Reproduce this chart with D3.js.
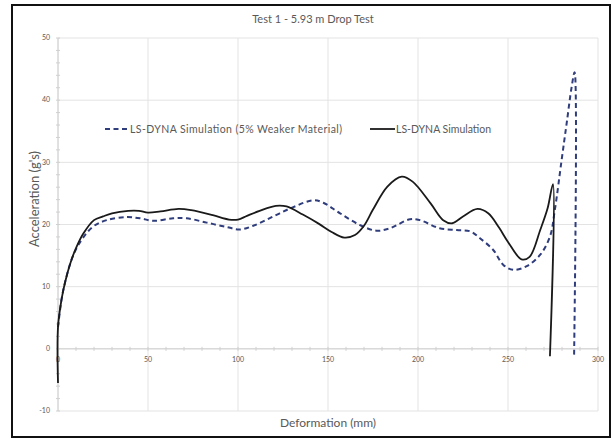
<!DOCTYPE html>
<html>
<head>
<meta charset="utf-8">
<script src="https://cdn.jsdelivr.net/npm/d3@7"></script>
<style>
  body { margin: 0; background: #fff; }
  svg text { font-family: Lato, "Open Sans", sans-serif; fill: #595959; }
</style>
</head>
<body>
<div id="chart"></div>
<script>
// Chart values
const title = "Test 1 - 5.93 m Drop Test";
const xTicks = [0, 50, 100, 150, 200, 250, 300];
const yTicks = [-10, 0, 10, 20, 30, 40, 50];
const seriesNames = ["LS-DYNA Simulation (5% Weaker Material)", "LS-DYNA Simulation"];

const weakX = [0, 2, 4, 7, 10, 14, 19.6, 27, 38, 45.5, 53, 64, 71.5, 82.6, 93.7, 101, 108.5, 119.6, 130.7, 141.8, 147.4, 156.7, 167.8, 177, 184.4, 195.6, 201, 212, 221.5, 229, 234.4, 241.8, 247.4, 253, 260.4, 267.8, 273.3, 276, 279.8, 282.6, 285.4, 287, 286.7];
const weakY = [3.5, 8.0, 10.8, 13.9, 16.0, 17.9, 19.7, 20.7, 21.2, 21.0, 20.6, 21.0, 21.0, 20.3, 19.6, 19.2, 19.8, 21.3, 22.8, 23.9, 23.5, 21.8, 19.9, 19.0, 19.4, 20.85, 20.7, 19.4, 19.1, 18.9, 17.8, 15.9, 13.5, 12.7, 13.3, 15.1, 18.05, 22.3, 30.4, 36.3, 42.2, 44.5, -1.5];

const baseX = [0, 0, 2, 4, 7, 10, 14, 20, 25, 30, 39, 45, 50, 57, 67, 74, 86, 95, 100, 105, 112, 121, 127, 136, 145, 152, 159, 165, 170, 175, 183, 191, 197, 207, 214, 219, 225, 233, 239, 245, 250, 257.5, 262, 268, 272, 275, 273.3];
const baseY = [-5.5, 3.5, 8.0, 10.8, 13.9, 16.2, 18.5, 20.7, 21.3, 21.8, 22.2, 22.2, 21.9, 22.1, 22.5, 22.3, 21.5, 20.8, 20.8, 21.4, 22.2, 23.0, 22.9, 21.6, 20.1, 18.8, 17.9, 18.3, 19.8, 22.4, 26.1, 27.7, 26.9, 23.4, 20.7, 20.2, 21.3, 22.5, 21.8, 19.5, 17.2, 14.4, 14.8, 19.2, 22.6, 26.5, -1.2];

const W = 613, H = 440;
const margin = { left: 58, right: 15, top: 38, bottom: 29 };

const svg = d3.select("#chart").append("svg")
  .attr("width", W)
  .attr("height", H);

// outer frame
svg.append("rect")
  .attr("x", 12).attr("y", 5)
  .attr("width", 598).attr("height", 432)
  .attr("fill", "#fff")
  .attr("stroke", "#111")
  .attr("stroke-width", 2);

const x = d3.scaleLinear().domain([0, 300]).range([margin.left, W - margin.right]);
const y = d3.scaleLinear().domain([-10, 50]).range([H - margin.bottom, margin.top]);

// gridlines
svg.append("g")
  .selectAll("line")
  .data(xTicks)
  .join("line")
  .attr("x1", d => x(d)).attr("x2", d => x(d))
  .attr("y1", y(50)).attr("y2", y(-10))
  .attr("stroke", "#e3e3e3");

svg.append("g")
  .selectAll("line")
  .data(yTicks)
  .join("line")
  .attr("x1", x(0)).attr("x2", x(300))
  .attr("y1", d => y(d)).attr("y2", d => y(d))
  .attr("stroke", "#e3e3e3");

// axes through zero
svg.append("line")
  .attr("x1", x(0)).attr("x2", x(300))
  .attr("y1", y(0)).attr("y2", y(0))
  .attr("stroke", "#d0d0d0");
svg.append("line")
  .attr("x1", x(0)).attr("x2", x(0))
  .attr("y1", y(50)).attr("y2", y(-10))
  .attr("stroke", "#d0d0d0");

// minor ticks
svg.append("g")
  .selectAll("line")
  .data(d3.range(0, 301, 10))
  .join("line")
  .attr("x1", d => x(d)).attr("x2", d => x(d))
  .attr("y1", y(0) - 2).attr("y2", y(0) + 2)
  .attr("stroke", "#d0d0d0");
svg.append("g")
  .selectAll("line")
  .data(d3.range(-10, 51, 2))
  .join("line")
  .attr("x1", x(0) - 2).attr("x2", x(0) + 2)
  .attr("y1", d => y(d)).attr("y2", d => y(d))
  .attr("stroke", "#d0d0d0");

// tick labels
svg.append("g")
  .selectAll("text")
  .data(yTicks)
  .join("text")
  .attr("x", x(0) - 8)
  .attr("y", d => y(d))
  .attr("dy", "0.32em")
  .attr("text-anchor", "end")
  .attr("font-size", 7)
  .text(d => d);

svg.append("g")
  .selectAll("text")
  .data(xTicks)
  .join("text")
  .attr("x", d => x(d))
  .attr("y", y(0) + 13)
  .attr("text-anchor", "middle")
  .attr("font-size", 7)
  .text(d => d);

// titles
svg.append("text")
  .attr("x", 313).attr("y", 23)
  .attr("text-anchor", "middle")
  .attr("font-size", 11)
  .text(title);

svg.append("text")
  .attr("transform", "translate(39,199) rotate(-90)")
  .attr("text-anchor", "middle")
  .attr("font-size", 13)
  .text("Acceleration (g's)");

svg.append("text")
  .attr("x", 328).attr("y", 427)
  .attr("text-anchor", "middle")
  .attr("font-size", 12)
  .text("Deformation (mm)");

// series
const line = d3.line()
  .x(d => x(d[0]))
  .y(d => y(d[1]))
  .curve(d3.curveCatmullRom.alpha(0.5));

svg.append("path")
  .datum(weakX.map((v, i) => [v, weakY[i]]))
  .attr("d", line)
  .attr("fill", "none")
  .attr("stroke", "#2f3d7c")
  .attr("stroke-width", 2)
  .attr("stroke-dasharray", "5,3.5");

svg.append("path")
  .datum(baseX.map((v, i) => [v, baseY[i]]))
  .attr("d", line)
  .attr("fill", "none")
  .attr("stroke", "#1a1a1a")
  .attr("stroke-width", 1.8);

// legend
const legend = svg.append("g").attr("font-size", 10.5);
legend.append("line")
  .attr("x1", 105).attr("x2", 129)
  .attr("y1", 129).attr("y2", 129)
  .attr("stroke", "#2f3d7c")
  .attr("stroke-width", 2)
  .attr("stroke-dasharray", "5,3.5");
legend.append("text")
  .attr("x", 130).attr("y", 129)
  .attr("dy", "0.35em")
  .attr("textLength", 212)
  .attr("lengthAdjust", "spacing")
  .text(seriesNames[0]);
legend.append("line")
  .attr("x1", 370).attr("x2", 395)
  .attr("y1", 129).attr("y2", 129)
  .attr("stroke", "#1a1a1a")
  .attr("stroke-width", 1.8);
legend.append("text")
  .attr("x", 396).attr("y", 129)
  .attr("dy", "0.35em")
  .text(seriesNames[1]);
</script>
</body>
</html>
